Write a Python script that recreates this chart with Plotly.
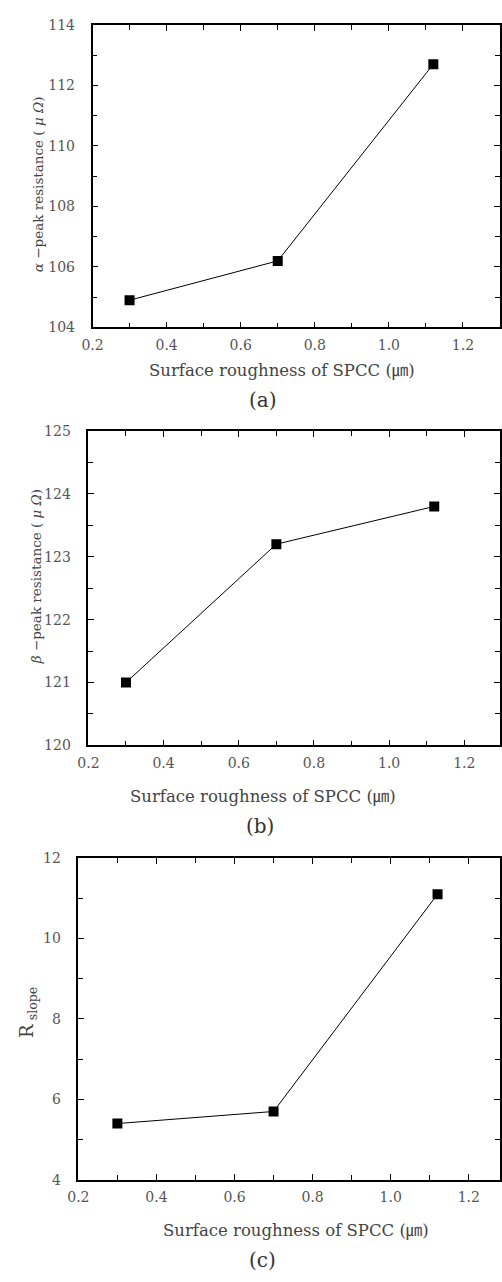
import plotly.graph_objects as go

# Surface roughness of SPCC (um)
roughness = [0.30, 0.70, 1.12]
alpha_peak = [104.9, 106.2, 112.7]   # alpha-peak resistance (micro-ohm)
beta_peak = [121.0, 123.2, 123.8]    # beta-peak resistance (micro-ohm)
r_slope = [5.4, 5.7, 11.1]

x_ticks = [0.2, 0.4, 0.6, 0.8, 1.0, 1.2]
x_title = "Surface roughness of SPCC (㎛)"
panel_tags = ["(a)", "(b)", "(c)"]

W, H = 502, 1282
FONT = "DejaVu Serif, Noto Sans CJK KR, serif"
TICK_COLOR = "#555555"


def px(x):
    return x / W


def py(y):
    return 1 - y / H


fig = go.Figure()

panels = [
    # series, x domain px, y domain px (top, bottom), x range, y range, dtick, minor
    (alpha_peak, (83.5, 501), (17, 323.5), [0.2, 1.3], [104, 114], 2, 1),
    (beta_peak, (79.3, 501), (428.3, 746.7), [0.2, 1.295], [120, 125], 1, 0.5),
    (r_slope, (69, 501), (860.7, 1186.7), [0.2, 1.28], [4, 12], 2, 1),
]

for i, (vals, (xl, xr), (yt, yb), xr_, yr_, dt, mn) in enumerate(panels, start=1):
    sfx = "" if i == 1 else str(i)
    fig.add_trace(go.Scatter(
        x=roughness, y=vals, mode="lines+markers",
        line=dict(color="black", width=1),
        marker=dict(symbol="square", size=10, color="black"),
        xaxis="x" + sfx, yaxis="y" + sfx, showlegend=False,
    ))
    common = dict(
        showline=True, linecolor="black", linewidth=1.5, mirror="ticks",
        ticks="inside", ticklen=6, tickwidth=1, tickcolor="black",
        showgrid=False, zeroline=False,
        tickfont=dict(family=FONT, size=14, color=TICK_COLOR),
    )
    fig.update_layout(**{
        "xaxis" + sfx: dict(
            domain=[px(xl), px(xr)], range=xr_, anchor="y" + sfx,
            tickvals=x_ticks, tickformat=".1f", ticklabelstandoff=4,
            minor=dict(dtick=0.1, tick0=0.2, ticks="inside", ticklen=5,
                       tickcolor="black", showgrid=False),
            **common,
        ),
        "yaxis" + sfx: dict(
            domain=[py(yb), py(yt)], range=yr_, anchor="x" + sfx,
            dtick=dt, tick0=yr_[0], ticklabelstandoff=13,
            minor=dict(dtick=mn, tick0=yr_[0], ticks="inside", ticklen=5,
                       tickcolor="black", showgrid=False),
            **common,
        ),
    })

annotations = []
# x-axis titles and panel tags
for (tx, ty), (gx, gy), tag in zip(
    [(278, 367), (258, 798), (292, 1238)],
    [(258, 397), (255, 828), (258, 1268)],
    panel_tags,
):
    annotations.append(dict(
        x=px(tx), y=py(ty), xref="paper", yref="paper", text=x_title,
        showarrow=False, xanchor="center", yanchor="middle",
        font=dict(family=FONT, size=16.5, color="#444444"),
    ))
    annotations.append(dict(
        x=px(gx), y=py(gy), xref="paper", yref="paper", text=tag,
        showarrow=False, xanchor="center", yanchor="middle",
        font=dict(family=FONT, size=20, color="#333333"),
    ))

# y-axis titles
annotations.append(dict(
    x=px(27), y=py(178), xref="paper", yref="paper",
    text="<i>α</i> −peak resistance ( <i>μ Ω</i>)", textangle=-90,
    showarrow=False, xanchor="center", yanchor="middle",
    font=dict(family=FONT, size=13.5, color="#444444"),
))
annotations.append(dict(
    x=px(25), y=py(576), xref="paper", yref="paper",
    text="<i>β</i> −peak resistance ( <i>μ Ω</i>)", textangle=-90,
    showarrow=False, xanchor="center", yanchor="middle",
    font=dict(family=FONT, size=13.5, color="#444444"),
))
annotations.append(dict(
    x=px(18), y=py(1017), xref="paper", yref="paper",
    text="R<sub> slope</sub>", textangle=-90,
    showarrow=False, xanchor="center", yanchor="middle",
    font=dict(family=FONT, size=18, color="#444444"),
))

fig.update_layout(
    width=W, height=H, margin=dict(l=0, r=0, t=0, b=0),
    paper_bgcolor="white", plot_bgcolor="white",
    annotations=annotations,
)

fig.write_html("out.html")
